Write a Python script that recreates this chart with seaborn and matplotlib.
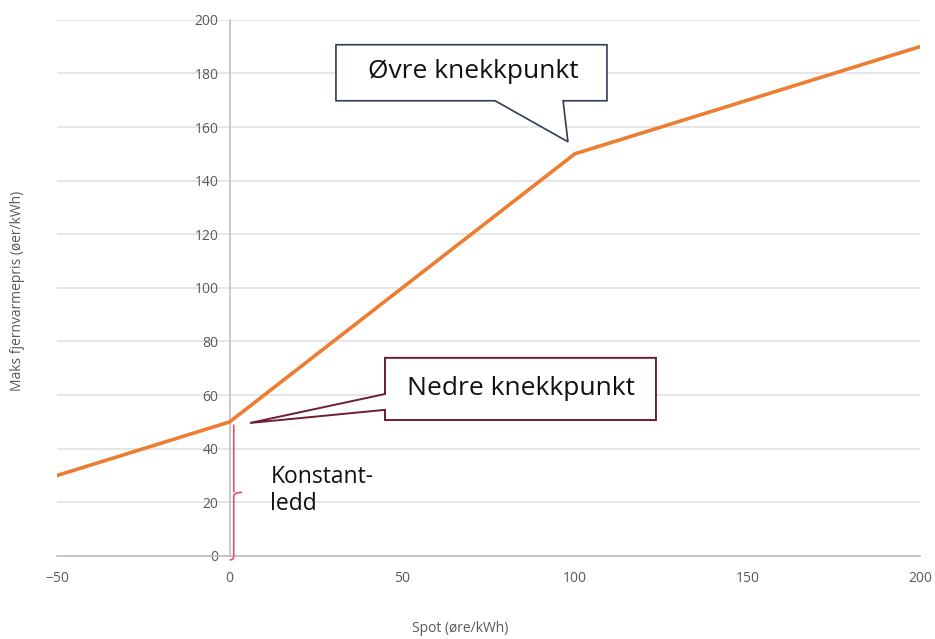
import numpy as np
import matplotlib.pyplot as plt
import seaborn as sns
from matplotlib.patches import Polygon, PathPatch
from matplotlib.path import Path

spot = [-50, 0, 100, 200]
maks_pris = [30, 50, 150, 190]
x_ticks = [-50, 0, 50, 100, 150, 200]
y_ticks = [0, 20, 40, 60, 80, 100, 120, 140, 160, 180, 200]

GREY = "#595959"
sns.set_style("white")
plt.rcParams["font.family"] = ["Open Sans", "DejaVu Sans"]

fig = plt.figure(figsize=(9.35, 6.39), dpi=100)
ax = fig.add_axes([0.061, 0.130, 0.923, 0.839])

sns.lineplot(x=spot, y=maks_pris, color="#ED7D31", lw=2.6, ax=ax, zorder=4)

ax.set_xlim(-50, 200)
ax.set_ylim(0, 200)
ax.set_xticks(x_ticks)
ax.set_yticks(y_ticks)
ax.grid(True, axis="y", color="#E4E4E4", lw=1.3, zorder=0)
ax.set_axisbelow(True)

for s in ("top", "right"):
    ax.spines[s].set_visible(False)
ax.spines["left"].set_position(("data", 0))
ax.spines["left"].set_color("#BFBFBF")
ax.spines["left"].set_linewidth(1.2)
ax.spines["bottom"].set_color("#BFBFBF")
ax.spines["bottom"].set_linewidth(1.2)

ax.tick_params(axis="y", length=0, pad=8, labelsize=10, labelcolor=GREY)
ax.tick_params(axis="x", direction="inout", length=9, width=1.2, color="#BFBFBF",
               pad=6, labelsize=10, labelcolor=GREY)

fig.text(0.492, 0.017, "Spot (øre/kWh)", ha="center", va="center", fontsize=10, color=GREY)
fig.text(0.019, 0.545, "Maks fjernvarmepris (øer/kWh)", ha="center", va="center",
         rotation=90, fontsize=10, color=GREY)

# callout "Øvre knekkpunkt"
ovre = [(30.8, 190.7), (109.3, 190.7), (109.3, 169.8), (96.6, 169.8), (98.0, 154.5),
        (76.9, 169.8), (30.8, 169.8)]
ax.add_patch(Polygon(ovre, closed=True, fc="white", ec="#2F3B57", lw=1.2,
                     clip_on=False, zorder=6))
ax.text(70.5, 180.6, "Øvre knekkpunkt", ha="center", va="center", fontsize=19,
        color="#111111", zorder=7)

# callout "Nedre knekkpunkt"
nedre = [(45.0, 73.9), (123.5, 73.9), (123.5, 50.7), (45.0, 50.7), (45.0, 54.5),
         (5.9, 49.6), (45.0, 60.4)]
ax.add_patch(Polygon(nedre, closed=True, fc="white", ec="#6B1F2F", lw=1.4,
                     clip_on=False, zorder=6))
ax.text(84.5, 62.6, "Nedre knekkpunkt", ha="center", va="center", fontsize=19,
        color="#111111", zorder=7)

# brace for Konstantledd
bx, tip, top, bot, mid = 1.2, 3.6, 49.0, -1.5, 23.7
verts = [(0.0, bot), (bx, bot), (bx, bot + 1.5),
         (bx, mid - 1.5), (bx, mid), (tip, mid),
         (bx, mid), (bx, mid + 1.5),
         (bx, top)]
codes = [Path.MOVETO, Path.CURVE3, Path.CURVE3,
         Path.LINETO, Path.CURVE3, Path.CURVE3,
         Path.MOVETO, Path.LINETO,
         Path.LINETO]
ax.add_patch(PathPatch(Path(verts, codes), fc="none", ec="#E8506A", lw=1.2,
                       clip_on=False, zorder=5))
ax.text(11.8, 34.0, "Konstant-\nledd", ha="left", va="top", fontsize=16.5,
        color="#111111", linespacing=1.2, zorder=7)

fig.savefig("out.png", dpi=100)
